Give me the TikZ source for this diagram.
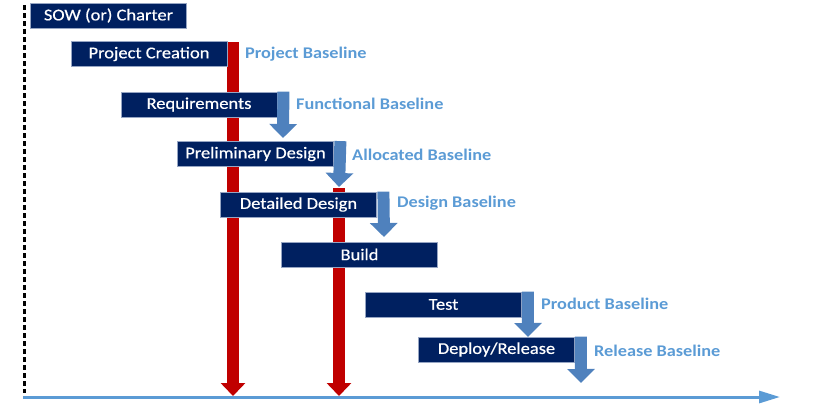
\documentclass[tikz,border=0pt]{standalone}
\usepackage{fontspec}
\setmainfont[FakeStretch=1.12]{Carlito}
\newfontfamily\boxfont[FakeStretch=1.12,FakeBold=0.5]{Carlito}
\usetikzlibrary{arrows.meta}
\definecolor{navy}{RGB}{0,32,96}
\definecolor{boxline}{RGB}{150,165,195}
\definecolor{redar}{RGB}{192,0,0}
\definecolor{bluear}{RGB}{79,129,189}
\definecolor{lbl}{RGB}{91,155,213}
\definecolor{axis}{RGB}{91,155,213}
\begin{document}
\begin{tikzpicture}[x=1pt,y=-1pt,
  phase/.style={draw=boxline,line width=0.8pt,fill=navy,text=white,
    minimum width=156pt,minimum height=25pt,inner sep=0pt,
    font=\boxfont\fontsize{16.5}{18}\selectfont},
  blabel/.style={anchor=west,text=lbl,inner sep=0pt,
    font=\fontsize{16.3}{18}\selectfont\bfseries},
  redarrow/.style={draw=redar,line width=12pt,
    -{Triangle[width=24pt,length=13pt]}},
  bluearrow/.style={draw=bluear,line width=12pt,
    -{Triangle[width=27pt,length=14pt]}},
]
\useasboundingbox (0,0) rectangle (840,418);
% axes
\draw[black,line width=3pt,dash pattern=on 4.5pt off 3.5pt] (24,5) coordinate (ytop) -- (24,393) coordinate (ybot);
\coordinate (xo) at (23,397);
\coordinate (xend) at (780,397);
\draw[axis,line width=3pt,-{Triangle[width=12pt,length=21pt]}] (xo) -- (xend);
% red arrow coordinates
\coordinate (r1s) at (233,42);
\coordinate (r1e) at (233,396);
\coordinate (r2s) at (339,188);
\coordinate (r2e) at (339,396);
\draw[redarrow] (r1s) -- (r1e);
\draw[redarrow] (r2s) -- (r2e);
% boxes
\node[phase] (sow) at (108.5,15.5) {SOW (or) Charter};
\node[phase] (pc) at (149,54) {Project Creation};
\node[phase] (req) at (199,104.5) {Requirements};
\node[phase] (pd) at (255.5,154) {Preliminary Design};
\node[phase] (dd) at (298.5,204.5) {Detailed Design};
\node[phase] (bld) at (359.5,254.5) {Build};
\node[phase] (tst) at (443.5,304.5) {Test};
\node[phase] (dep) at (496.5,349.5) {Deploy/Release};
% blue arrows
\coordinate (b1e) at (283,138);
\coordinate (b2e) at (339,187);
\coordinate (b3e) at (384,237);
\coordinate (b4e) at (528,337);
\coordinate (b5e) at (581,383);
\draw[bluearrow] ([xshift=6pt]req.north east) -- (b1e);
\draw[bluearrow] ([xshift=6.5pt]pd.north east) -- (b2e);
\draw[bluearrow] ([xshift=6.5pt]dd.north east) -- (b3e);
\draw[bluearrow] ([xshift=6pt]tst.north east) -- (b4e);
\draw[bluearrow] ([xshift=6pt]dep.north east) -- (b5e);
% labels
\node[blabel] (l1) at (245,54) {Project Baseline};
\node[blabel] (l2) at (296,104) {Functional Baseline};
\node[blabel] (l3) at (352,155) {Allocated Baseline};
\node[blabel] (l4) at (397,203) {Design Baseline};
\node[blabel] (l5) at (541,304) {Product Baseline};
\node[blabel] (l6) at (594,351) {Release Baseline};
\end{tikzpicture}
\end{document}
